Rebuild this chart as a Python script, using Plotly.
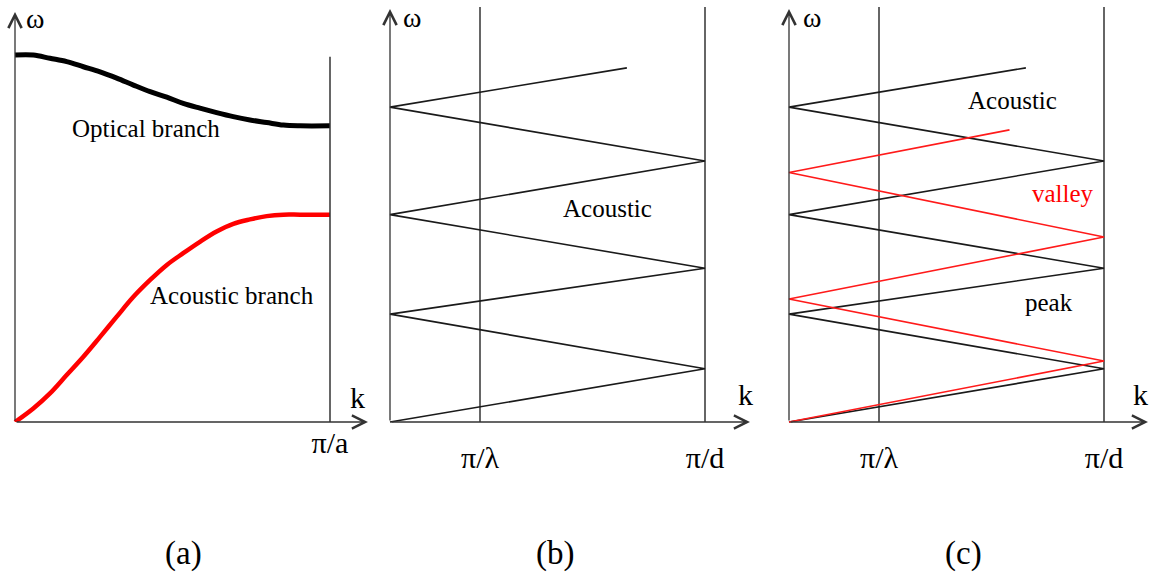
import plotly.graph_objects as go

# ---------------- data ----------------
# panel (a): k in units of pi/a, omega in arbitrary units (optical max = 1)
branch_k = [0, 0.058, 0.111, 0.164, 0.217, 0.270, 0.323, 0.376, 0.429, 0.482,
            0.534, 0.587, 0.640, 0.693, 0.746, 0.799, 0.852, 0.905, 1.0]
optical_w = [1.000, 1.000, 0.991, 0.982, 0.968, 0.954, 0.937, 0.918, 0.900, 0.885,
             0.868, 0.855, 0.843, 0.832, 0.823, 0.816, 0.809, 0.807, 0.807]
acoustic_w = [0.000, 0.037, 0.078, 0.128, 0.178, 0.232, 0.287, 0.341, 0.387, 0.428,
              0.460, 0.491, 0.519, 0.540, 0.552, 0.561, 0.565, 0.565, 0.565]
zone_a_top = 0.995

# panels (b) and (c): k in units of pi/d
folded_k = [0, 1, 0, 1, 0, 1, 0, 0.752]
folded_black_w = [0.000, 0.145, 0.294, 0.419, 0.565, 0.711, 0.858, 0.965]
folded_red_k = [0, 1, 0, 1, 0, 0.70]
folded_red_w = [0.000, 0.166, 0.335, 0.504, 0.680, 0.796]
k_lambda = 2 / 7
zone_top = 1.131

tick_vals_a = [1]
tick_text_a = ["π/a"]
tick_vals_bc = [k_lambda, 1]
tick_text_bc = ["π/λ", "π/d"]
panel_labels = ["(a)", "(b)", "(c)"]

# ---------------- layout geometry ----------------
W, H = 1153, 581
SX, SY = 315.0, 367.0     # px per unit
Y0 = 422                  # pixel row of omega = 0
TOP = 4
FONT = "Liberation Serif"
BLACK = "#1a1a1a"
LINE = "#333333"
RED = "#ff1a1a"

panels = [  # origin_x, left, right, bottom, ticklen
    (15, 3, 376, 422, 0),
    (390, 378, 766, 428, 3),
    (789, 777, 1153, 428, 3),
]

fig = go.Figure()
layout_axes = {}
for i, (ox, l, r, bot, tl) in enumerate(panels):
    sfx = "" if i == 0 else str(i + 1)
    layout_axes["xaxis" + sfx] = dict(
        domain=[l / W, r / W], range=[(l - ox) / SX, (r - ox) / SX],
        showgrid=False, zeroline=False, showline=False,
        tickvals=tick_vals_a if i == 0 else tick_vals_bc,
        ticktext=tick_text_a if i == 0 else tick_text_bc,
        ticks="outside" if tl > 0 else "", ticklen=tl, tickcolor="rgba(0,0,0,0)",
        tickfont=dict(family=FONT, size=30, color="black"),
        anchor="y" + sfx, fixedrange=True,
    )
    layout_axes["yaxis" + sfx] = dict(
        domain=[(H - bot) / H, (H - TOP) / H],
        range=[(Y0 - bot) / SY, (Y0 - TOP) / SY],
        showgrid=False, zeroline=False, showline=False, showticklabels=False,
        anchor="x" + sfx, fixedrange=True,
    )

def add(trace, i):
    sfx = "" if i == 0 else str(i + 1)
    trace.update(xaxis="x" + sfx, yaxis="y" + sfx, showlegend=False, hoverinfo="skip",
                 cliponaxis=False)
    fig.add_trace(trace)

# panel (a)
add(go.Scatter(x=branch_k, y=optical_w, mode="lines",
               line=dict(color="black", width=5, shape="spline", smoothing=1.0)), 0)
add(go.Scatter(x=branch_k, y=acoustic_w, mode="lines",
               line=dict(color="#ff0000", width=4.5, shape="spline", smoothing=1.0)), 0)
add(go.Scatter(x=[1, 1], y=[0, zone_a_top], mode="lines", line=dict(color=LINE, width=1.5)), 0)

# panel (b)
for kv in tick_vals_bc:
    add(go.Scatter(x=[kv, kv], y=[0, zone_top], mode="lines", line=dict(color=LINE, width=1.5)), 1)
add(go.Scatter(x=folded_k, y=folded_black_w, mode="lines", line=dict(color=BLACK, width=1.6)), 1)

# panel (c)
for kv in tick_vals_bc:
    add(go.Scatter(x=[kv, kv], y=[0, zone_top], mode="lines", line=dict(color=LINE, width=1.5)), 2)
add(go.Scatter(x=folded_k, y=folded_black_w, mode="lines", line=dict(color=BLACK, width=1.6)), 2)
add(go.Scatter(x=folded_red_k, y=folded_red_w, mode="lines", line=dict(color=RED, width=1.6)), 2)

annotations = []
def px2data(i, px, py):
    ox = panels[i][0]
    return (px - ox) / SX, (Y0 - py) / SY

def arrow(i, x0, y0, x1, y1):
    sfx = "" if i == 0 else str(i + 1)
    annotations.append(dict(x=x1, y=y1, ax=x0, ay=y0, xref="x" + sfx, yref="y" + sfx,
                            axref="x" + sfx, ayref="y" + sfx, text="", showarrow=True,
                            arrowhead=5, arrowsize=2.0, arrowwidth=1.3, arrowcolor=LINE,
                            standoff=0, startstandoff=0))

def label(i, px, py, text, size=25, color="black"):
    sfx = "" if i == 0 else str(i + 1)
    x, y = px2data(i, px, py)
    annotations.append(dict(x=x, y=y, xref="x" + sfx, yref="y" + sfx, text=text,
                            showarrow=False, xanchor="center", yanchor="middle",
                            font=dict(family=FONT, size=size, color=color)))

def omega_label(px, py):
    annotations.append(dict(x=px / W, y=1 - py / H, xref="paper", yref="paper", text="ω",
                            showarrow=False, xanchor="center", yanchor="top",
                            font=dict(family=FONT, size=28, color="black")))

# axes with arrows
tips = [(368, 12), (750, 9), (1148, 9)]
for i, (tx, ty) in enumerate(tips):
    kx, _ = px2data(i, tx, Y0)
    _, wy = px2data(i, 0, ty)
    arrow(i, 0, 0, kx, 0)
    arrow(i, 0, 0, 0, wy)

# text labels
label(0, 146, 128, "Optical branch")
label(0, 232, 295, "Acoustic branch")
omega_label(35, 1)
label(0, 357, 397, "k", 30)

label(1, 607, 208, "Acoustic")
omega_label(412, 0)
label(1, 745, 394, "k", 30)

label(2, 1012, 100, "Acoustic")
label(2, 1063, 193, "valley", 25, "#ff0000")
label(2, 1049, 302, "peak")
omega_label(812, 0)
label(2, 1140, 394, "k", 30)

for txt, cx in zip(panel_labels, [183, 555, 963]):
    annotations.append(dict(x=cx / W, y=1 - 553 / H, xref="paper", yref="paper", text=txt,
                            showarrow=False, xanchor="center", yanchor="middle",
                            font=dict(family=FONT, size=33, color="black")))

fig.update_layout(
    width=W, height=H, margin=dict(l=0, r=0, t=0, b=0),
    paper_bgcolor="white", plot_bgcolor="rgba(0,0,0,0)",
    annotations=annotations, **layout_axes,
)

fig.write_html("out.html", config={"displayModeBar": False},
               post_script="document.body.style.margin='0';document.body.style.overflow='hidden';")
